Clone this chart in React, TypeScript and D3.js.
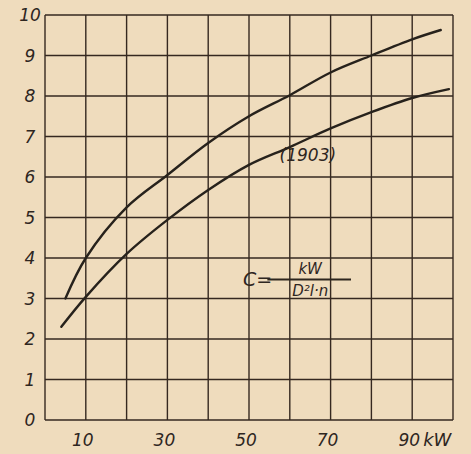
import { useEffect, useRef } from "react"
import * as d3 from "d3"

// kW on the x axis, C on the y axis
const xTicks = [10, 30, 50, 70, 90]
const yTicks = [0, 1, 2, 3, 4, 5, 6, 7, 8, 9, 10]
const gridX = [0, 10, 20, 30, 40, 50, 60, 70, 80, 90, 100]

const upperKw = [5, 10, 20, 30, 40, 50, 60, 70, 80, 90, 97]
const upperC = [3.0, 4.0, 5.25, 6.05, 6.84, 7.5, 8.02, 8.58, 9.0, 9.4, 9.63]

const lowerKw = [4, 10, 20, 30, 40, 50, 60, 70, 80, 90, 99]
const lowerC = [2.3, 3.04, 4.1, 4.94, 5.68, 6.3, 6.74, 7.2, 7.6, 7.95, 8.17]

const W = 471
const H = 454
const ink = "#2e261f"
const font = "'DejaVu Sans', sans-serif"

export default function App() {
  const svgRef = useRef<SVGSVGElement>(null)

  useEffect(() => {
    if (!svgRef.current) return
    const margin = { top: 15, right: 18, bottom: 34, left: 45 }
    const svg = d3.select(svgRef.current)
    svg.selectAll("*").remove()

    const x = d3.scaleLinear().domain([0, 100]).range([margin.left, W - margin.right])
    const y = d3.scaleLinear().domain([0, 10]).range([H - margin.bottom, margin.top])

    // paper
    svg.append("rect").attr("width", W).attr("height", H).attr("fill", "#efdcbd")

    // grid
    const grid = svg.append("g").attr("stroke", "#352820").attr("stroke-width", 1.4)
    grid
      .selectAll(".vx")
      .data(gridX)
      .enter()
      .append("line")
      .attr("x1", (d) => x(d))
      .attr("x2", (d) => x(d))
      .attr("y1", y(0))
      .attr("y2", y(10))
    grid
      .selectAll(".hy")
      .data(yTicks)
      .enter()
      .append("line")
      .attr("x1", x(0))
      .attr("x2", x(100))
      .attr("y1", (d) => y(d))
      .attr("y2", (d) => y(d))

    // y labels
    svg
      .append("g")
      .selectAll("text")
      .data(yTicks)
      .enter()
      .append("text")
      .attr("x", 30)
      .attr("y", (d) => y(d))
      .attr("dy", "0.36em")
      .attr("text-anchor", "middle")
      .attr("font-family", font)
      .attr("font-style", "italic")
      .attr("font-size", 17)
      .attr("fill", ink)
      .text((d) => d)

    // x labels
    svg
      .append("g")
      .selectAll("text")
      .data(xTicks)
      .enter()
      .append("text")
      .attr("x", (d) => x(d) - 3)
      .attr("y", y(0) + 26)
      .attr("text-anchor", "middle")
      .attr("font-family", font)
      .attr("font-style", "italic")
      .attr("font-size", 17)
      .attr("fill", ink)
      .text((d) => d)
    svg
      .append("text")
      .attr("x", x(90) + 11)
      .attr("y", y(0) + 26)
      .attr("font-family", font)
      .attr("font-style", "italic")
      .attr("font-size", 18)
      .attr("fill", ink)
      .text("kW")

    // curves
    const line = d3
      .line<[number, number]>()
      .x((d) => x(d[0]))
      .y((d) => y(d[1]))
      .curve(d3.curveCatmullRom.alpha(0.5))
    const curves = [
      d3.zip(upperKw, upperC) as [number, number][],
      d3.zip(lowerKw, lowerC) as [number, number][],
    ]
    svg
      .selectAll(".curve")
      .data(curves)
      .enter()
      .append("path")
      .attr("d", (d) => line(d))
      .attr("fill", "none")
      .attr("stroke", "#27221c")
      .attr("stroke-width", 2.4)
      .attr("stroke-linecap", "round")

    // annotations
    svg
      .append("text")
      .attr("x", x(57.5))
      .attr("y", y(6.4))
      .attr("font-family", font)
      .attr("font-style", "italic")
      .attr("font-size", 17)
      .attr("fill", ink)
      .text("(1903)")

    const fx = x(48.5)
    const fy = y(3.47)
    svg
      .append("text")
      .attr("x", fx)
      .attr("y", fy + 7)
      .attr("font-family", font)
      .attr("font-style", "italic")
      .attr("font-size", 19)
      .attr("fill", ink)
      .text("C=")
    svg
      .append("line")
      .attr("x1", x(54.5))
      .attr("x2", x(75))
      .attr("y1", fy)
      .attr("y2", fy)
      .attr("stroke", ink)
      .attr("stroke-width", 2)
    svg
      .append("text")
      .attr("x", x(65))
      .attr("y", fy - 5)
      .attr("text-anchor", "middle")
      .attr("font-family", font)
      .attr("font-style", "italic")
      .attr("font-size", 15)
      .attr("fill", ink)
      .text("kW")
    svg
      .append("text")
      .attr("x", x(65))
      .attr("y", fy + 17)
      .attr("text-anchor", "middle")
      .attr("font-family", font)
      .attr("font-style", "italic")
      .attr("font-size", 15)
      .attr("fill", ink)
      .text("D²l·n")
  }, [])

  return (
    <svg
      ref={svgRef}
      width={W}
      height={H}
      style={{ position: "absolute", left: 0, top: 0 }}
    />
  )
}
